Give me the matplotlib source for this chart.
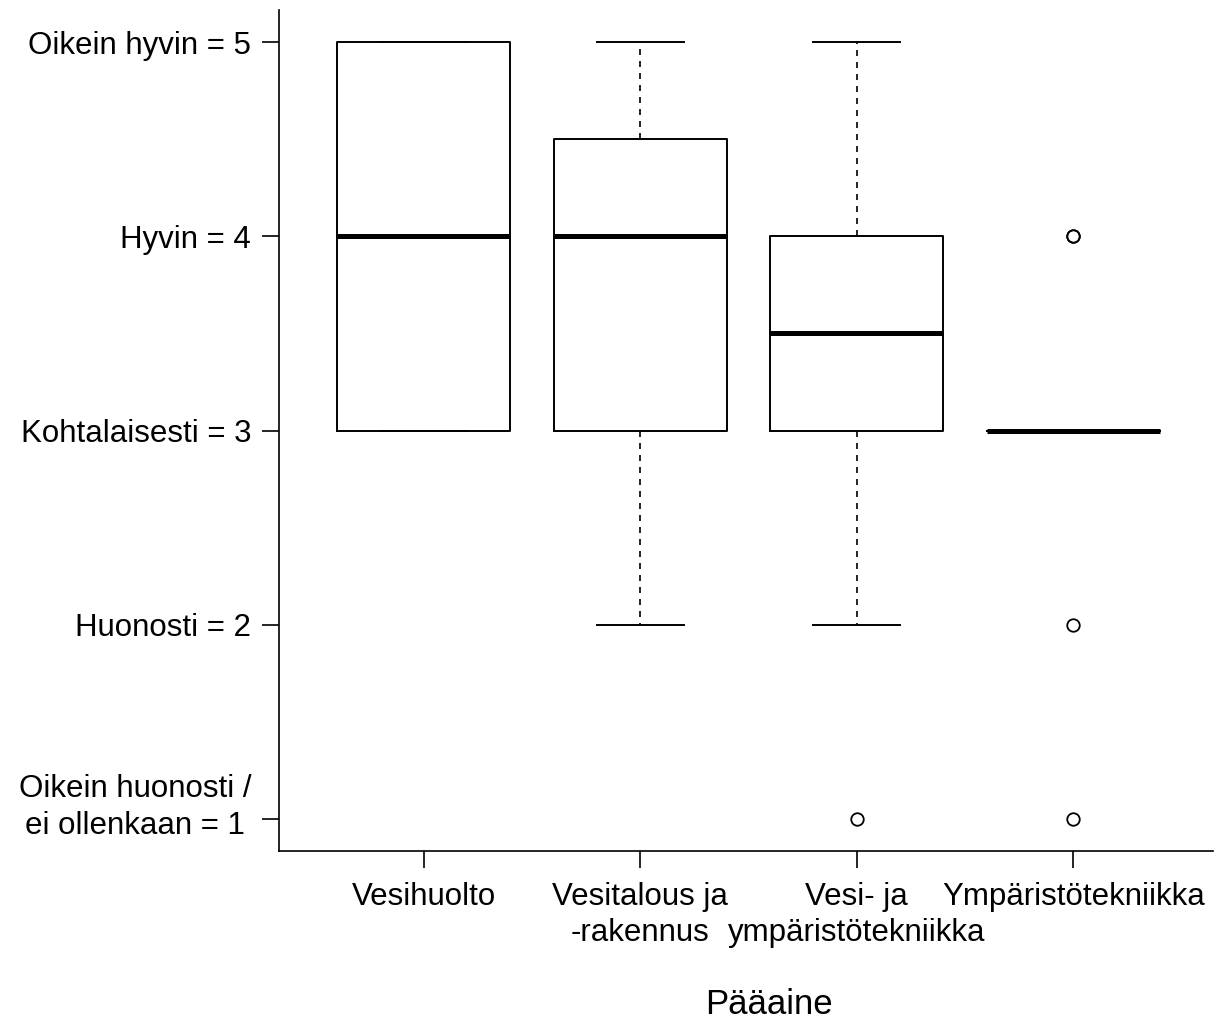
import matplotlib
matplotlib.use('Agg')
import matplotlib.pyplot as plt

plt.rcParams['font.family'] = ['Liberation Sans', 'DejaVu Sans']

# data
groups = ['Vesihuolto', 'Vesitalous ja\n-rakennus', 'Vesi- ja\nympäristötekniikka', 'Ympäristötekniikka']
medians = [4, 4, 3.5, 3]
q1 = [3, 3, 3, 3]
q3 = [5, 4.5, 4, 3]
whislo = [3, 2, 2, 3]
whishi = [5, 5, 5, 3]
fliers = [[], [], [1], [4, 4, 2, 1]]

y_ticks = [1, 2, 3, 4, 5]
# trailing newline keeps the last line on the tick, like R does
y_labels = ['Oikein huonosti /\nei ollenkaan = 1\n', 'Huonosti = 2', 'Kohtalaisesti = 3',
            'Hyvin = 4', 'Oikein hyvin = 5']

stats = []
for i in range(len(groups)):
    stats.append({'med': medians[i], 'q1': q1[i], 'q3': q3[i],
                  'whislo': whislo[i], 'whishi': whishi[i], 'fliers': fliers[i]})

fig = plt.figure(figsize=(12.2, 10.26), dpi=100)
ax = fig.add_axes([279/1220, 1 - 851/1026, (1213 - 279)/1220, (851 - 10)/1026])

ax.bxp(stats, positions=[1, 2, 3, 4], widths=0.8,
       boxprops=dict(color='black', linewidth=1.4),
       medianprops=dict(color='black', linewidth=3.6, solid_capstyle='butt'),
       whiskerprops=dict(color='black', linewidth=1.2, linestyle=(0, (3.6, 3.6))),
       capprops=dict(color='black', linewidth=1.4),
       capwidths=0.4,
       flierprops=dict(marker='o', markerfacecolor='none', markeredgecolor='black',
                       markersize=9, markeredgewidth=1.3))

ax.set_xlim(0.331, 4.646)
ax.set_ylim(0.835, 5.165)

ax.set_xticks([1, 2, 3, 4])
ax.set_xticklabels(groups, fontsize=22.5, linespacing=1.27)
ax.set_yticks(y_ticks)
ax.set_yticklabels(y_labels, fontsize=22.5, multialignment='center', linespacing=1.27)
ax.tick_params(axis='both', length=12, width=1.2, direction='out')
ax.tick_params(axis='x', pad=10)
ax.tick_params(axis='y', pad=8)

for s in ['top', 'right']:
    ax.spines[s].set_visible(False)
for s in ['left', 'bottom']:
    ax.spines[s].set_linewidth(1.2)

fig.text(769/1220, 1 - 1005/1026, 'Pääaine', fontsize=25, ha='center', va='center')

fig.savefig('out.png', dpi=100)
